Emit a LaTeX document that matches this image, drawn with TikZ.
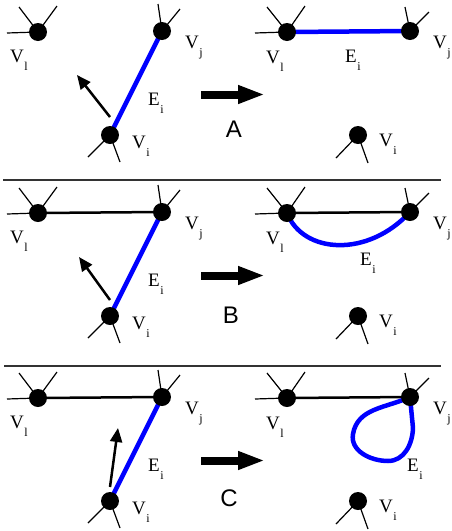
\documentclass[tikz,border=0pt]{standalone}
\usepackage{fontspec}
\setmainfont{Liberation Serif}
\newfontfamily\lettfont{Liberation Sans}
\usetikzlibrary{arrows.meta,backgrounds}
\newcommand{\vsub}[2]{#1\kern0.5pt\raisebox{-8pt}{\fontsize{12}{12}\selectfont #2}}
\begin{document}
\begin{tikzpicture}[x=1pt,y=-1pt,
 dot/.style={circle,fill=black,minimum size=18pt,inner sep=0pt},
 stub/.style={line width=1.2pt},
 blueedge/.style={line width=4.5pt,draw=blue},
 blackedge/.style={line width=2.5pt},
 move/.style={line width=2.5pt,-{Triangle[length=14pt,width=12pt]}},
 bigarrow/.style={line width=8pt,-{Triangle[length=27pt,width=17pt]}},
 lab/.style={anchor=base west,inner sep=0pt,font=\fontsize{19}{19}\selectfont},
 letter/.style={font=\lettfont\fontsize{24}{24}\selectfont,inner sep=0pt},
 sep/.style={line width=1.3pt,draw=black!80}]
\useasboundingbox (0,0) rectangle (451,531);

\foreach \p/\dy in {a/0,b/181,c/366}{
 \begin{scope}[yshift=-\dy pt]
  \node[dot] (\p Vl) at (38,32) {};
  \node[dot] (\p Vj) at (162,31) {};
  \node[dot] (\p Vi) at (110,135) {};
  \node[dot] (\p Wl) at (287,32) {};
  \node[dot] (\p Wj) at (410,31) {};
  \node[dot] (\p Wi) at (358,135) {};
  % stubs
  \draw[stub] (\p Vl.center) -- +(-31,1);
  \draw[stub] (\p Vl.center) -- +(-19,-25);
  \draw[stub] (\p Vl.center) -- +(19,-26);
  \draw[stub] (\p Vj.center) -- +(-4,-27);
  \draw[stub] (\p Vj.center) -- +(18,-22);
  \draw[stub] (\p Vi.center) -- +(-22,22);
  \draw[stub] (\p Vi.center) -- +(10,27);
  \draw[stub] (\p Wl.center) -- +(-32,1);
  \draw[stub] (\p Wl.center) -- +(-20,-25);
  \draw[stub] (\p Wl.center) -- +(18,-26);
  \draw[stub] (\p Wj.center) -- +(-5,-24);
  \draw[stub] (\p Wj.center) -- +(19,-19);
  \draw[stub] (\p Wi.center) -- +(-22,23);
  \draw[stub] (\p Wi.center) -- +(10,28);
  % labels
  \node[lab] (\p LVl) at (10,62) {\vsub{V}{l}};
  \node[lab] (\p LVj) at (185,48) {\vsub{V}{j}};
  \node[lab] (\p LVi) at (132,148) {\vsub{V}{i}};
  \node[lab] (\p LWl) at (266,63) {\vsub{V}{l}};
  \node[lab] (\p LWj) at (433,48) {\vsub{V}{j}};
  \node[lab] (\p LWi) at (379,146) {\vsub{V}{i}};
  \node[lab] (\p LE) at (148,105) {\vsub{E}{i}};
  % big arrow
  \coordinate (\p S) at (201,94.5);
  \coordinate (\p T) at (265,94.5);
  \draw[bigarrow] (\p S) -- (\p T);
 \end{scope}
}

% separators
\coordinate (s1a) at (3,180); \coordinate (s1b) at (441,180);
\coordinate (s2a) at (4,366); \coordinate (s2b) at (441,366);
\draw[sep] (s1a) -- (s1b);
\draw[sep] (s2a) -- (s2b);

% letters
\node[letter] (lA) at (234,129) {A};
\node[letter] (lB) at (231,315) {B};
\node[letter] (lC) at (229,498) {C};

% right E labels
\node[lab] (aRE) at (345,62) {\vsub{E}{i}};
\node[lab] (bRE) at (360,265) {\vsub{E}{i}};
\node[lab] (cRE) at (407,471) {\vsub{E}{i}};

% move arrows
\coordinate (am0) at (110,117); \coordinate (am1) at (77,75);
\coordinate (bm0) at (110,300); \coordinate (bm1) at (79,257);
\coordinate (cm0) at (110,487); \coordinate (cm1) at (118,428);
\draw[move] (am0) -- (am1);
\draw[move] (bm0) -- (bm1);
\draw[move] (cm0) -- (cm1);

\begin{scope}[on background layer]
 % panel A
 \draw[blueedge] (aVi.center) -- (aVj.center);
 \draw[blueedge] (aWl.center) -- (aWj.center);
 % panel B
 \draw[blackedge] (bVl.center) -- (bVj.center);
 \draw[blueedge] (bVi.center) -- (bVj.center);
 \draw[blackedge] (bWl.center) -- (bWj.center);
 \draw[blueedge] (bWl.center) .. controls (303,254) and (368,258) .. (bWj.center);
 % panel C
 \draw[blackedge] (cVl.center) -- (cVj.center);
 \draw[blueedge] (cVi.center) -- (cVj.center);
 \draw[blackedge] (cWl.center) -- (cWj.center);
 \draw[blueedge,line join=round] (cWj.center) to[out=-155,in=80] (353,434)
   to[out=-100,in=180] (388,461) to[out=0,in=-92] (413,428) -- (cWj.center);
\end{scope}
\end{tikzpicture}
\end{document}
